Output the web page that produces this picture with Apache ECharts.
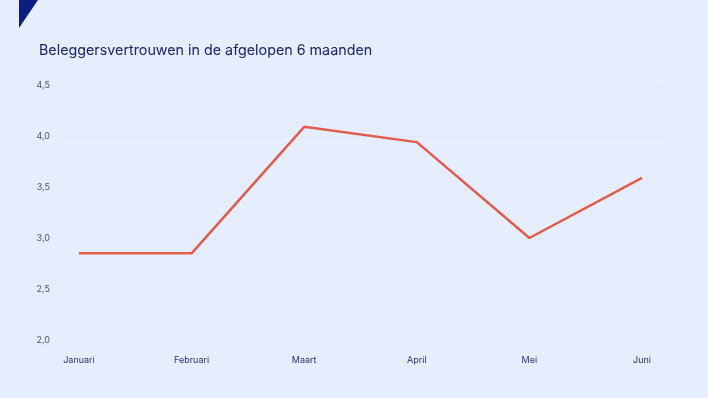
<!DOCTYPE html>
<html>
<head>
<meta charset="utf-8">
<script src="https://cdn.jsdelivr.net/npm/echarts@6/dist/echarts.min.js"></script>
<style>
html,body{margin:0;padding:0;background:#e6edfd;}
#c{width:708px;height:398px;}
</style>
</head>
<body>
<div id="c"></div>
<script>
var titleText = "Beleggersvertrouwen in de afgelopen 6 maanden";
var categories = ["Januari", "Februari", "Maart", "April", "Mei", "Juni"];
var values = [2.85, 2.85, 4.09, 3.94, 3.0, 3.59];
var yMin = 2.0, yMax = 4.5, yStep = 0.5;

var chart = echarts.init(document.getElementById('c'), null, {renderer: 'canvas'});
var fmt = function (v) { return v.toFixed(1).replace('.', ','); };
chart.setOption({
  backgroundColor: '#e6edfd',
  animation: false,
  textStyle: {fontFamily: 'Inter'},
  title: {
    text: titleText,
    left: 39, top: 44, padding: 0,
    textStyle: {fontFamily: 'Inter', fontSize: 14.3, fontWeight: 'normal', color: '#1b2468'}
  },
  graphic: [{
    type: 'polygon',
    shape: {points: [[19, 0], [38, 0], [19, 28]]},
    style: {fill: '#0c1f80'}
  }],
  grid: [
    {left: 60, right: 45, top: 85, bottom: 58},
    {left: 79, right: 66, top: 85, bottom: 58}
  ],
  xAxis: [
    {gridIndex: 0, type: 'category', data: categories, show: false},
    {
      gridIndex: 1, type: 'category', data: categories, boundaryGap: false,
      axisLine: {show: false}, axisTick: {show: false}, splitLine: {show: false},
      axisLabel: {margin: 16, fontSize: 9, color: '#2a327a', fontFamily: 'Inter'}
    }
  ],
  yAxis: [
    {
      gridIndex: 0, type: 'value', min: yMin, max: yMax, interval: yStep,
      axisLine: {show: false}, axisTick: {show: false},
      splitLine: {lineStyle: {color: '#e0e8fc', width: 1}},
      axisLabel: {margin: 10, fontSize: 9, color: '#4a5080', fontFamily: 'Inter', formatter: fmt}
    },
    {
      gridIndex: 1, type: 'value', min: yMin, max: yMax, interval: yStep,
      show: false, splitLine: {show: false}
    }
  ],
  series: [{
    type: 'line', xAxisIndex: 1, yAxisIndex: 1,
    data: values, showSymbol: false, symbol: 'none',
    lineStyle: {color: '#e05c4b', width: 2.5},
    itemStyle: {color: '#e05c4b'}
  }]
});
</script>
</body>
</html>
